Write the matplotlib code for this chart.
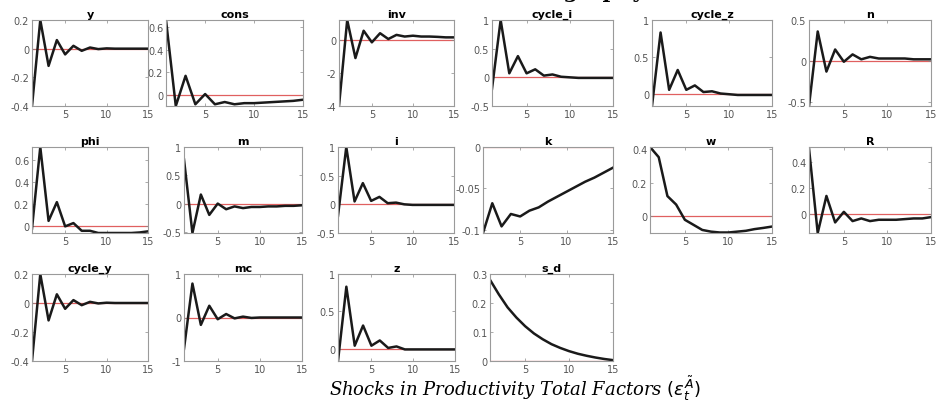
import numpy as np
import matplotlib.pyplot as plt
from matplotlib.ticker import FormatStrFormatter

# horizon
periods = list(range(1, 16))

# impulse responses
y = [-0.4, 0.2, -0.12, 0.06, -0.04, 0.02, -0.015, 0.008, -0.003, 0.002, 0.0, 0.0, 0.0, 0.0, 0.0]
cons = [0.66, -0.095, 0.17, -0.08, 0.01, -0.08, -0.06, -0.08, -0.07, -0.07, -0.065, -0.06, -0.055, -0.05, -0.04]
inv = [-4.0, 1.2, -1.1, 0.55, -0.15, 0.4, 0.05, 0.3, 0.2, 0.25, 0.2, 0.2, 0.18, 0.15, 0.15]
cycle_i = [-0.2, 1.0, 0.07, 0.37, 0.07, 0.14, 0.03, 0.05, 0.01, 0.0, -0.01, -0.01, -0.01, -0.01, -0.01]
cycle_z = [-0.17, 0.83, 0.05, 0.32, 0.05, 0.11, 0.02, 0.03, 0.0, -0.01, -0.02, -0.02, -0.02, -0.02, -0.02]
n = [-0.55, 0.36, -0.13, 0.14, -0.01, 0.08, 0.02, 0.05, 0.03, 0.03, 0.03, 0.03, 0.02, 0.02, 0.02]
phi = [-0.02, 0.72, 0.05, 0.22, 0.0, 0.03, -0.04, -0.04, -0.06, -0.06, -0.06, -0.06, -0.06, -0.055, -0.045]
m = [0.78, -0.52, 0.16, -0.2, 0.0, -0.1, -0.05, -0.08, -0.06, -0.06, -0.05, -0.05, -0.04, -0.04, -0.03]
i = [-0.2, 1.0, 0.05, 0.37, 0.06, 0.13, 0.02, 0.03, 0.0, -0.01, -0.01, -0.01, -0.01, -0.01, -0.01]
k = [-0.104, -0.068, -0.096, -0.081, -0.084, -0.077, -0.073, -0.066, -0.06, -0.054, -0.048, -0.042, -0.037, -0.031, -0.025]
w = [0.41, 0.35, 0.12, 0.07, -0.02, -0.05, -0.08, -0.09, -0.095, -0.095, -0.09, -0.085, -0.075, -0.068, -0.06]
R = [0.5, -0.14, 0.14, -0.06, 0.02, -0.05, -0.03, -0.05, -0.04, -0.04, -0.04, -0.035, -0.03, -0.03, -0.02]
cycle_y = [-0.4, 0.2, -0.12, 0.06, -0.04, 0.02, -0.015, 0.008, -0.003, 0.002, 0.0, 0.0, 0.0, 0.0, 0.0]
mc = [-0.72, 0.78, -0.17, 0.27, -0.04, 0.08, -0.02, 0.02, -0.01, 0.0, 0.0, 0.0, 0.0, 0.0, 0.0]
z = [-0.165, 0.83, 0.04, 0.31, 0.04, 0.11, 0.01, 0.03, -0.01, -0.01, -0.01, -0.01, -0.01, -0.01, -0.01]
s_d = [0.28, 0.23, 0.185, 0.15, 0.12, 0.095, 0.075, 0.058, 0.045, 0.034, 0.025, 0.018, 0.012, 0.007, 0.003]

names = ['y', 'cons', 'inv', 'cycle_i', 'cycle_z', 'n',
         'phi', 'm', 'i', 'k', 'w', 'R',
         'cycle_y', 'mc', 'z', 's_d']
series = [y, cons, inv, cycle_i, cycle_z, n, phi, m, i, k, w, R, cycle_y, mc, z, s_d]

# y limits and ticks as shown
ylims = [(-0.4, 0.2), (-0.095, 0.66), (-4, 1.2), (-0.5, 1.0), (-0.17, 1.0), (-0.55, 0.5),
         (-0.06, 0.72), (-0.52, 1.0), (-0.5, 1.0), (-0.104, 0), (-0.098, 0.41), (-0.14, 0.51),
         (-0.4, 0.2), (-1, 1), (-0.165, 1.0), (0, 0.3)]
yticks = [[-0.4, -0.2, 0, 0.2], [0, 0.2, 0.4, 0.6], [-4, -2, 0], [-0.5, 0, 0.5, 1], [0, 0.5, 1], [-0.5, 0, 0.5],
          [0, 0.2, 0.4, 0.6], [-0.5, 0, 0.5, 1], [-0.5, 0, 0.5, 1], [-0.1, -0.05, 0], [0, 0.2, 0.4], [0, 0.2, 0.4],
          [-0.4, -0.2, 0, 0.2], [-1, 0, 1], [0, 0.5, 1], [0, 0.1, 0.2, 0.3]]

# axes boxes in pixels: left, right, top, bottom
W, H = 938, 410
boxes = [(32, 148, 21, 107), (166, 303, 21, 107), (339, 454, 21, 107), (492, 613, 21, 107), (652, 772, 21, 107), (809, 931, 21, 107),
         (32, 148, 148, 234), (184, 302, 148, 234), (338, 454, 148, 234), (483, 613, 148, 234), (650, 772, 148, 234), (809, 931, 148, 234),
         (32, 148, 275, 362), (184, 302, 275, 362), (338, 455, 275, 362), (490, 613, 275, 362)]

fig = plt.figure(figsize=(W / 100, H / 100), dpi=100)

for name, vals, yl, yt, (l, r, t, b) in zip(names, series, ylims, yticks, boxes):
    ax = fig.add_axes([l / W, 1 - b / H, (r - l) / W, (b - t) / H])
    ax.axhline(0, color='#e06060', lw=0.9, zorder=1)
    ax.plot(periods, vals, color='#1a1a1a', lw=1.8, zorder=2)
    ax.set_xlim(1, 15)
    ax.set_ylim(*yl)
    ax.set_xticks([5, 10, 15])
    ax.set_yticks(yt)
    ax.yaxis.set_major_formatter(FormatStrFormatter('%g'))
    ax.tick_params(direction='in', length=2, width=0.5, labelsize=7, colors='#888888',
                   labelcolor='#555555', top=True, right=True, pad=2)
    for sp in ax.spines.values():
        sp.set_color('#9a9a9a')
        sp.set_linewidth(0.8)
    ax.set_title(name, fontsize=8, fontweight='bold', pad=2)

# caption and cut-off heading
fig.text(515 / W, 1 - 396 / H, r'Shocks in Productivity Total Factors $(\varepsilon_t^{\tilde{A}})$',
         ha='center', va='baseline', family='DejaVu Serif', style='italic', fontsize=13)
fig.text(645 / W, 1 + 2 / H, 'Demography', ha='right', va='baseline',
         family='DejaVu Serif', fontweight='bold', fontsize=15)

fig.savefig('out.png', dpi=100)
